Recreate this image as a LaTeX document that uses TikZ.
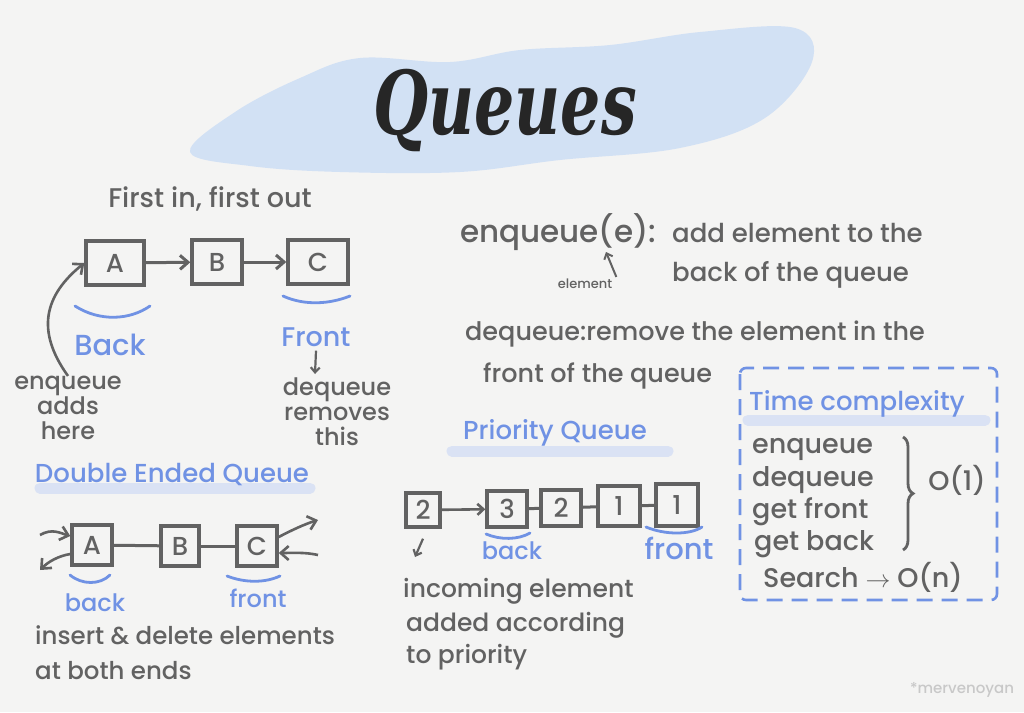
\documentclass[tikz,border=0pt]{standalone}
\usepackage{fontspec}
\setmainfont{Poppins Medium}
\newfontfamily\titlefont{DejaVu Serif}
\usetikzlibrary{arrows.meta, decorations.pathreplacing}
\definecolor{paper}{RGB}{244, 244, 243}
\definecolor{inkGray}{RGB}{98, 98, 98}
\definecolor{inkBlue}{RGB}{112, 146, 228}
\definecolor{washBlue}{RGB}{205, 222, 245}
\definecolor{markBlue}{RGB}{218, 226, 244}
\definecolor{signGray}{RGB}{200, 200, 200}
\tikzset{
  txt/.style={text=inkGray, font=\fontsize{25}{27}\selectfont, inner sep=0pt},
  bluetxt/.style={txt, text=inkBlue},
  cell/.style={draw=inkGray, line width=3.4pt, text=inkGray, font=\fontsize{26}{26}\selectfont,
    minimum width=50pt, minimum height=44pt, inner sep=0pt},
  link/.style={draw=inkGray, line width=3pt},
  arr/.style={link, -{Straight Barb[length=8pt, width=14pt]}},
  smile/.style={draw=inkBlue, line width=2.8pt, line cap=round},
  marker/.style={draw=markBlue, line width=11pt, line cap=round},
}
\begin{document}
\begin{tikzpicture}[x=1pt, y=-1pt]
  \useasboundingbox (0,0) rectangle (1024,712);
  \fill[paper] (0,0) rectangle (1024,712);

  % Title wash
  \fill[washBlue, opacity=.85] plot[smooth cycle, tension=.6] coordinates {
    (190,152) (235,112) (300,78) (360,58) (450,62) (520,50) (610,45) (700,32)
    (795,28) (812,62) (765,118) (680,148) (560,160) (460,172) (340,172) (250,166)};
  \node[transform shape, xscale=.72, font=\titlefont\bfseries\itshape\fontsize{88}{88}\selectfont, text=black!85] (title) at (505,110) {Queues};

  % FIFO queue
  \node[txt, font=\fontsize{27}{27}\selectfont] (fifo) at (210,199) {First in, first out};
  \node[cell, minimum width=58pt] (qa) at (115,263) {A};
  \node[cell] (qb) at (217,262) {B};
  \node[cell, minimum width=60pt] (qc) at (318,262) {C};
  \draw[arr] (qa) -- (qb);
  \draw[arr] (qb) -- (qc);
  \draw[smile] (75,306) .. controls (100,322) and (130,320) .. (150,306);
  \draw[smile] (283,296) .. controls (305,306) and (330,304) .. (350,296);
  \node[bluetxt, font=\fontsize{29}{29}\selectfont] (back) at (110,345) {Back};
  \node[bluetxt, font=\fontsize{27}{27}\selectfont] (front) at (316,337) {Front};

  % Enqueue / dequeue notes
  \node[txt, align=center, font=\fontsize{24}{25}\selectfont] (addshere) at (68,408) {enqueue\\adds\\here};
  \draw[arr, line width=2.6pt] (addshere.north) .. controls (35,330) and (45,295) .. (qa.west);
  \node[txt, align=center, font=\fontsize{24}{25}\selectfont] (removes) at (337,412) {dequeue\\removes\\this};
  \coordinate (fdown) at (315,374);
  \draw[arr, line width=2.2pt, -{Straight Barb[length=5pt, width=9pt]}] (front.south) ++(0,4) -- (fdown);

  % Double ended queue
  \draw[marker] (40,488) -- (310,488);
  \node[bluetxt, font=\fontsize{26}{26}\selectfont] (dtitle) at (172,475) {Double Ended Queue};
  \node[cell, minimum width=40pt, minimum height=40pt] (da) at (92,545) {A};
  \node[cell, minimum width=38pt, minimum height=40pt] (db) at (180,546) {B};
  \node[cell, minimum width=40pt, minimum height=40pt] (dc) at (257,546) {C};
  \draw[link] (da) -- (db);
  \draw[link] (db) -- (dc);
  \coordinate (inL) at (40,535);
  \coordinate (outL) at (40,570);
  \coordinate (outR) at (318,520);
  \coordinate (inR) at (318,555);
  \draw[arr, line width=2.6pt] (inL) .. controls (52,528) and (60,533) .. (da.west |- 0,536);
  \draw[arr, line width=2.6pt] (da.west |- 0,554) .. controls (58,556) and (48,562) .. (outL);
  \draw[arr, line width=2.6pt] (dc.east |- 0,537) .. controls (292,530) and (305,524) .. (outR);
  \draw[arr, line width=2.6pt] (inR) .. controls (305,552) and (292,553) .. (dc.east |- 0,553);
  \draw[smile] (70,575) .. controls (82,585) and (100,585) .. (110,575);
  \draw[smile] (227,576) .. controls (245,583) and (265,583) .. (280,576);
  \node[bluetxt, font=\fontsize{24}{24}\selectfont] (dback) at (95,603) {back};
  \node[bluetxt, font=\fontsize{24}{24}\selectfont] (dfront) at (258,598) {front};
  \node[txt, font=\fontsize{24.5}{26}\selectfont, anchor=base west] (both1) at (35,644) {insert \& delete elements};
  \node[txt, font=\fontsize{24.5}{26}\selectfont, anchor=base west] (both2) at (35,679) {at both ends};

  % Operations
  \node[txt, anchor=base west, font=\fontsize{31}{31}\selectfont] (enq) at (460,242) {enqueue(e):};
  \node[txt, anchor=base west, font=\fontsize{26}{27}\selectfont] (enq1) at (672,242) {add element to the};
  \node[txt, anchor=base west, font=\fontsize{26}{27}\selectfont] (enq2) at (672,281) {back of the queue};
  \node[txt, font=\fontsize{13}{13}\selectfont] (elem) at (585,284) {element};
  \coordinate (etip) at (606,252);
  \draw[arr, line width=2pt, -{Straight Barb[length=5pt, width=9pt]}] (elem.north east) ++(4,-2) -- (etip);
  \node[txt, anchor=base west, font=\fontsize{25.5}{27}\selectfont] (deq1) at (465,340) {dequeue:remove the element in the};
  \node[txt, anchor=base west, font=\fontsize{25.5}{27}\selectfont] (deq2) at (483,382) {front of the queue};

  % Priority queue
  \draw[marker] (452,451) -- (668,451);
  \node[bluetxt, font=\fontsize{26}{26}\selectfont] (ptitle) at (555,433) {Priority Queue};
  \node[cell, minimum width=34pt, minimum height=34pt] (p0) at (423,510) {2};
  \node[cell, minimum width=40pt, minimum height=36pt] (p1) at (507,509) {3};
  \node[cell, minimum width=40pt, minimum height=36pt] (p2) at (561,508) {2};
  \node[cell, minimum width=42pt, minimum height=40pt] (p3) at (619,506) {1};
  \node[cell, minimum width=42pt, minimum height=42pt] (p4) at (677,505) {1};
  \draw[arr, line width=2.6pt, -{Straight Barb[length=6pt, width=11pt]}] (p0) -- (p1);
  \draw[link] (p1) -- (p2);
  \draw[link] (p2) -- (p3);
  \draw[link] (p3) -- (p4);
  \draw[smile] (486,534) .. controls (500,540) and (518,540) .. (530,533);
  \draw[smile] (646,527) .. controls (665,535) and (690,535) .. (702,527);
  \node[bluetxt, font=\fontsize{24}{24}\selectfont] (pback) at (512,551) {back};
  \node[bluetxt, font=\fontsize{29}{29}\selectfont] (pfront) at (679,548) {front};
  \coordinate (pdown) at (415,557);
  \draw[arr, line width=2.2pt, -{Straight Barb[length=5pt, width=9pt]}] (p0.south) ++(0,10) -- (pdown);
  \node[txt, anchor=base west, font=\fontsize{25}{26}\selectfont] (inc1) at (403,597) {incoming element};
  \node[txt, anchor=base west, font=\fontsize{25}{26}\selectfont] (inc2) at (406,631) {added according};
  \node[txt, anchor=base west, font=\fontsize{25}{26}\selectfont] (inc3) at (406,663) {to priority};

  % Time complexity box
  \draw[inkBlue, line width=2.6pt, dash pattern=on 16pt off 9pt, rounded corners=6pt] (740,368) rectangle (997,600);
  \draw[marker] (748,420) -- (985,420);
  \node[bluetxt, font=\fontsize{26}{26}\selectfont] (ttitle) at (857,404) {Time complexity};
  \node[txt, anchor=base west, font=\fontsize{27}{27}\selectfont] (t1) at (752,453) {enqueue};
  \node[txt, anchor=base west, font=\fontsize{27}{27}\selectfont] (t2) at (752,486) {dequeue};
  \node[txt, anchor=base west, font=\fontsize{27}{27}\selectfont] (t3) at (752,518) {get front};
  \node[txt, anchor=base west, font=\fontsize{27}{27}\selectfont] (t4) at (754,550) {get back};
  \coordinate (btop) at (903,437);
  \coordinate (bbot) at (903,550);
  \draw[inkGray, line width=2.8pt, decorate, decoration={brace, amplitude=10pt}] (btop) -- (bbot);
  \node[txt, font=\fontsize{27}{27}\selectfont] (o1) at (957,480) {O(1)};
  \node[txt, anchor=base west, font=\fontsize{27}{27}\selectfont] (t5) at (763,587) {Search $\rightarrow$ O(n)};

  % Signature
  \node[text=signGray, font=\fontsize{15}{15}\selectfont] (sign) at (962,690) {*mervenoyan};
\end{tikzpicture}
\end{document}
